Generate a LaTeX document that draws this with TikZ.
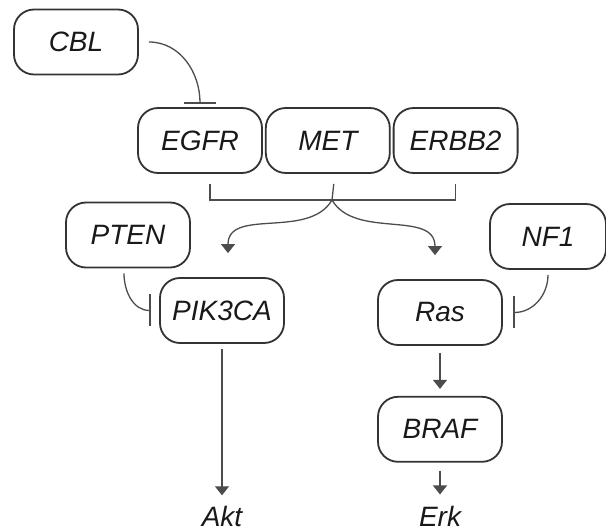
\documentclass[tikz,border=0pt]{standalone}
\usepackage{fontspec}
\setmainfont{Liberation Sans}
\usetikzlibrary{arrows.meta,positioning}

\begin{document}
\begin{tikzpicture}[
  x=0.5pt, y=0.5pt,
  node distance=1pt,
  gene/.style={draw=black!80,line width=0.9pt,rounded corners=10pt,
    minimum width=62pt,minimum height=32.5pt,inner sep=2pt,
    font=\fontsize{14}{16}\selectfont\itshape,text=black!90},
  readout/.style={inner sep=0pt,font=\fontsize{14}{16}\selectfont\itshape,text=black!90},
  link/.style={draw=black!70,line width=0.65pt},
  act/.style={link,-{Triangle[width=7pt,length=4.5pt]}},
  inh/.style={link,-{Bar[width=16pt,line width=1.1pt]}}
]
  \useasboundingbox (0,0) rectangle (606,-529);
  \node[gene] (cbl) at (76,-42) {CBL};
  \node[gene] (egfr) at (200,-140.5) {EGFR};
  \node[gene,right=of egfr] (met) {MET};
  \node[gene,right=of met] (erbb2) {ERBB2};
  \node[gene] (pten) at (128,-235) {PTEN};
  \node[gene] (pik3ca) at (222,-310.5) {PIK3CA};
  \node[gene,minimum width=58pt] (nf1) at (548,-236.5) {NF1};
  \node[gene] (ras) at (440,-312.5) {Ras};
  \node[gene,below=25pt of ras] (braf) {BRAF};
  \node[readout] (akt) at (222,-516) {Akt};
  \node[readout] (erk) at (440,-516) {Erk};
  \coordinate (fork) at (332,-200);
  \coordinate (tipL) at ([xshift=3pt,yshift=12pt]pik3ca.north);
  \coordinate (tipR) at ([xshift=-2.5pt,yshift=12pt]ras.north);

  % receptors join in one bracket
  \draw[link] ([xshift=5pt,yshift=-5pt]egfr.south) |- (fork) -| ([yshift=-5pt]erbb2.south);
  \draw[link] ([xshift=3pt,yshift=-5pt]met.south) -- (fork);
  \draw[act] (fork) to[out=-120,in=90] (tipL);
  \draw[act] (fork) to[out=-60,in=90] (tipR);

  % inhibitors
  \draw[inh] ([xshift=5pt]cbl.east) to[out=0,in=90] ([yshift=1.5pt]egfr.north);
  \draw[inh] ([xshift=-2pt,yshift=-2.5pt]pten.south) to[out=-90,in=180] ([xshift=-4pt]pik3ca.west);
  \draw[inh] ([yshift=-2.5pt]nf1.south) to[out=-90,in=0] ([xshift=5pt]ras.east);

  % downstream
  \draw[act] ([yshift=-2.5pt]pik3ca.south) -- ([yshift=5pt]akt.north);
  \draw[act] ([yshift=-3.5pt]ras.south) -- ([yshift=3.5pt]braf.north);
  \draw[act] ([yshift=-4pt]braf.south) -- ([yshift=5.5pt]erk.north);
\end{tikzpicture}
\end{document}
